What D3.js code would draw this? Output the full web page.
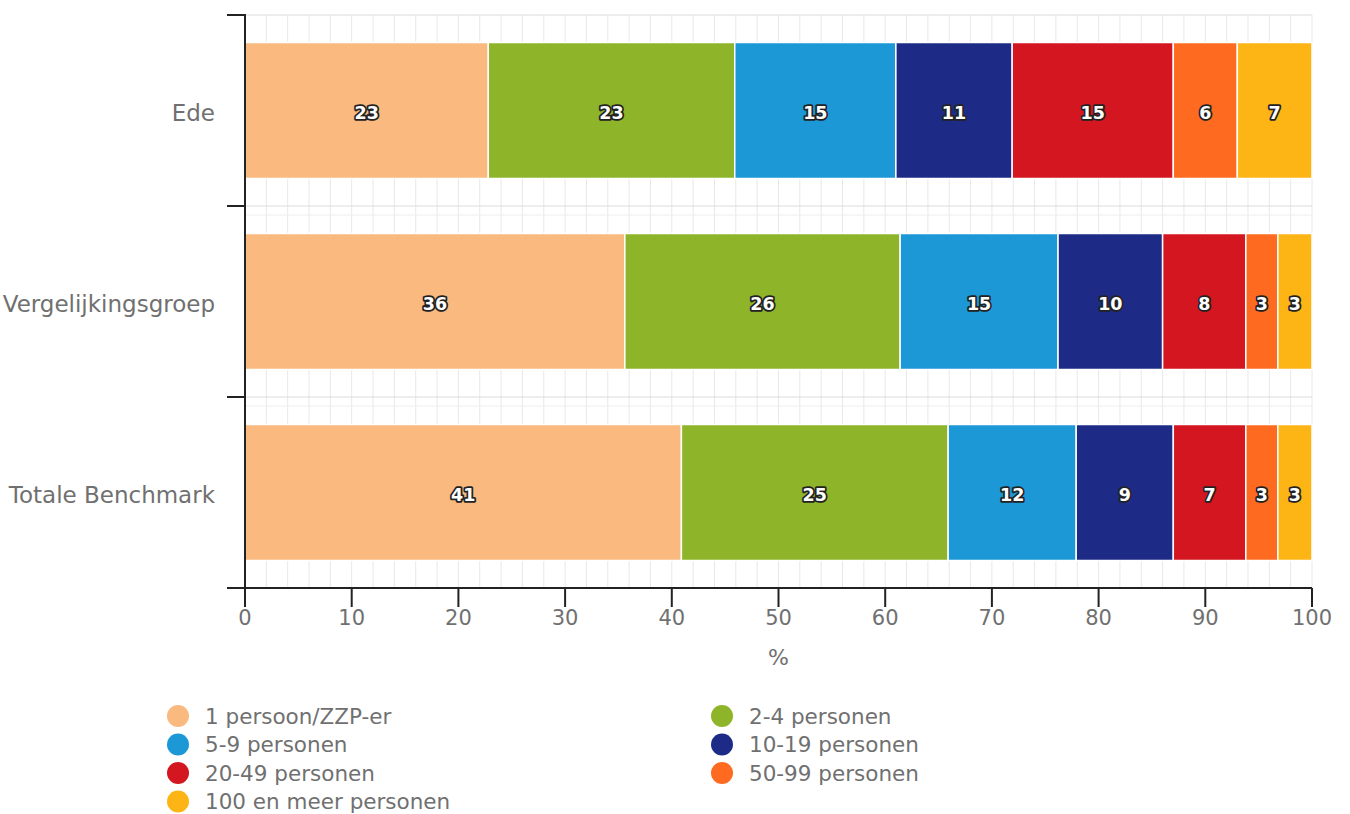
<!DOCTYPE html>
<html><head><meta charset="utf-8">
<script src="https://cdn.jsdelivr.net/npm/d3@7"></script>
<style>
html,body{margin:0;padding:0;background:#fff;}
svg{display:block;font-family:"DejaVu Sans",sans-serif;}
</style></head>
<body><svg id="c" width="1350" height="814"></svg>
<script>
const categories = ["Ede", "Vergelijkingsgroep", "Totale Benchmark"];
const seriesNames = ["1 persoon/ZZP-er", "2-4 personen", "5-9 personen", "10-19 personen", "20-49 personen", "50-99 personen", "100 en meer personen"];
const seriesColors = ["#f9b97f", "#8eb42a", "#1c98d6", "#1d2b87", "#d3161f", "#fe6a1f", "#fdb516"];
const valuesEde = [22.8, 23.1, 15.1, 10.9, 15.1, 6.0, 7.0];
const valuesVergelijking = [35.6, 25.8, 14.8, 9.8, 7.8, 3.0, 3.2];
const valuesTotaal = [40.9, 25.0, 12.0, 9.1, 6.8, 3.0, 3.2];
const xTicks = [0, 10, 20, 30, 40, 50, 60, 70, 80, 90, 100];
const xTitle = "%";

const rows = [valuesEde, valuesVergelijking, valuesTotaal];
const svg = d3.select("#c");
const x = d3.scaleLinear().domain([0, 100]).range([245, 1312]);
const y = d3.scaleBand().domain(categories).range([15, 588]).paddingInner(0.288).paddingOuter(0.144);
const step = y.step();

// grid
const g = svg.append("g");
g.selectAll("line.v").data(d3.range(0, 101, 2)).join("line")
  .attr("x1", d => x(d)).attr("x2", d => x(d)).attr("y1", 15).attr("y2", 588)
  .attr("stroke", "#e8e8e8").attr("stroke-width", 1);
const bounds = categories.map((c, i) => 15 + i * step);
g.selectAll("line.h").data(bounds).join("line")
  .attr("x1", x(0)).attr("x2", x(100)).attr("y1", d => d).attr("y2", d => d)
  .attr("stroke", "#dcdcdc").attr("stroke-width", 1);
g.selectAll("line.h2").data(bounds.slice(1)).join("line")
  .attr("x1", x(0)).attr("x2", x(100)).attr("y1", d => d + 9).attr("y2", d => d + 9)
  .attr("stroke", "#eeeeee").attr("stroke-width", 1);

// bars
const stacked = [];
rows.forEach((vals, ci) => {
  let acc = 0;
  vals.forEach((v, si) => {
    stacked.push({cat: categories[ci], s: si, x0: acc, x1: acc + v, v});
    acc += v;
  });
});
svg.append("g").selectAll("rect").data(stacked).join("rect")
  .attr("x", d => x(d.x0)).attr("width", d => x(d.x1) - x(d.x0))
  .attr("y", d => y(d.cat)).attr("height", y.bandwidth())
  .attr("fill", d => seriesColors[d.s]).attr("stroke", "#fff").attr("stroke-width", 1.5);

svg.append("g").selectAll("text").data(stacked).join("text")
  .attr("x", d => x((d.x0 + d.x1) / 2)).attr("y", d => y(d.cat) + y.bandwidth() / 2 + 2)
  .attr("text-anchor", "middle").attr("dominant-baseline", "central")
  .attr("font-size", 17.5).attr("font-weight", "bold")
  .attr("fill", "#fff").attr("stroke", "#222").attr("stroke-width", 3.5)
  .attr("stroke-linejoin", "round").attr("paint-order", "stroke")
  .text(d => Math.round(d.v));

// axes
const ax = svg.append("g").attr("stroke", "#222").attr("stroke-width", 2);
ax.append("line").attr("x1", x(0)).attr("x2", x(0)).attr("y1", 14).attr("y2", 588);
ax.selectAll("line.yt").data(bounds.concat([588])).join("line")
  .attr("x1", 227).attr("x2", x(0)).attr("y1", d => d).attr("y2", d => d);
ax.append("line").attr("x1", 227).attr("x2", x(100)).attr("y1", 588).attr("y2", 588);
ax.selectAll("line.xt").data(xTicks).join("line")
  .attr("x1", d => x(d)).attr("x2", d => x(d)).attr("y1", 588).attr("y2", 607);

svg.append("g").selectAll("text").data(xTicks).join("text")
  .attr("x", d => x(d)).attr("y", 625).attr("text-anchor", "middle")
  .attr("font-size", 21).attr("fill", "#707070").text(d => d);
svg.append("text").attr("x", x(50)).attr("y", 665).attr("text-anchor", "middle")
  .attr("font-size", 22).attr("fill", "#707070").text(xTitle);

svg.append("g").selectAll("text").data(categories).join("text")
  .attr("x", 215).attr("y", d => y(d) + y.bandwidth() / 2 + 2)
  .attr("text-anchor", "end").attr("dominant-baseline", "central")
  .attr("font-size", 23).attr("fill", "#707070").text(d => d);

// legend
const leg = svg.append("g");
seriesNames.forEach((n, i) => {
  const col = i % 2, row = Math.floor(i / 2);
  const lx = col === 0 ? 178 : 722;
  const ly = 716 + row * 28.5;
  leg.append("circle").attr("cx", lx).attr("cy", ly).attr("r", 11).attr("fill", seriesColors[i]);
  leg.append("text").attr("x", lx + 27).attr("y", ly).attr("dominant-baseline", "central")
    .attr("font-size", 21.5).attr("fill", "#707070").text(n);
});
</script></body></html>
